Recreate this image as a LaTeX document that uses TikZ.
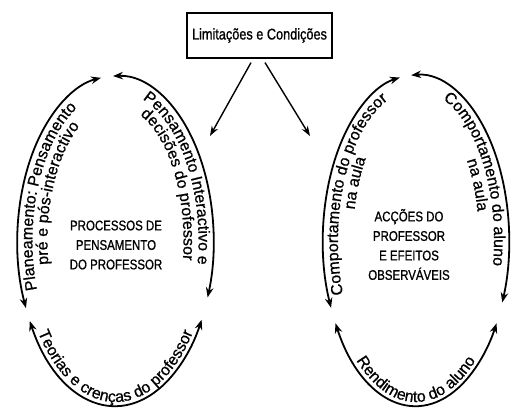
\documentclass[tikz,border=0pt]{standalone}
\usepackage{fontspec}
\setmainfont{Liberation Sans}
\newfontfamily\condfont[FakeStretch=0.82,FakeBold=1]{Liberation Sans}
\newfontfamily\arcfam[FakeBold=0.8]{Liberation Sans}
\usetikzlibrary{arrows.meta,calc,decorations.text}
\newcommand\arcfont{\arcfam\fontsize{16bp}{18bp}\selectfont}
% #1 centre, #2 x radius, #3 y radius, #4 start angle, #5 end angle
\newcommand\ringarc[5]{\draw[cyc] ($(#1)+(#4:#2 and #3)$) arc[start angle=#4,end angle=#5,x radius=#2,y radius=#3];}
% #6 alignment, #7 text
\newcommand\ringtext[7]{\path[decorate,decoration={text along path,text align=#6,text={|\arcfont|#7}}] ($(#1)+(#4:#2 and #3)$) arc[start angle=#4,end angle=#5,x radius=#2,y radius=#3];}
\begin{document}
\begin{tikzpicture}[x=1bp,y=1bp,line width=1.8bp,
  cyc/.style={{Stealth[length=10bp,width=7.5bp]}-{Stealth[length=10bp,width=7.5bp]}},
  feed/.style={-{Stealth[length=10bp,width=7bp]},line width=1.4bp},
  limbox/.style={draw,line width=1.2bp,minimum width=145bp,minimum height=45bp,inner sep=0pt,
    font={\condfont\fontsize{15.5bp}{18bp}\selectfont}},
  title/.style={align=center,inner sep=0pt,font={\condfont\fontsize{14bp}{19.5bp}\selectfont}}]
\useasboundingbox (0,0) rectangle (512,408);
\coordinate (L) at (115.5,167);
\coordinate (R) at (416,167.5);

% box and feed arrows
\node[limbox] (lim) at (259.5,372.5) {Limitações e Condições};
\coordinate (p1) at (210,272);
\coordinate (p2) at (310,272);
\draw[feed] ([xshift=-8.5bp,yshift=-4bp]lim.south) -- (p1);
\draw[feed] ([xshift=5.5bp,yshift=-4bp]lim.south) -- (p2);

% left cycle
\ringarc{L}{98}{165}{204}{98.5}
\ringarc{L}{98}{165}{91.5}{-20}
\ringarc{L}{98}{165}{209}{331.5}
\ringtext{L}{83}{150}{199}{60}{left}{Planeamento: Pensamento}
\ringtext{L}{68}{135}{190}{60}{left}{pré e pós-interactivo}
\ringtext{L}{83}{150}{71}{-80}{left}{Pensamento Interactivo e}
\ringtext{L}{68}{135}{69}{-80}{left}{decisões do professor}
\ringtext{L}{94}{161}{200}{340}{center}{Teorias e crenças do professor}
\node[title] (lt) at (116,163) {PROCESSOS DE\\PENSAMENTO\\DO PROFESSOR};

% right cycle
\ringarc{R}{93}{165.5}{204}{100}
\ringarc{R}{93}{165.5}{93}{-22}
\ringarc{R}{93}{165.5}{210}{330}
\ringtext{R}{78}{150.5}{201}{60}{left}{Comportamento do professor}
\ringtext{R}{63}{135.5}{190}{110}{center}{na aula}
\ringtext{R}{78}{150.5}{70}{-80}{left}{Comportamento do aluno}
\ringtext{R}{63}{135.5}{69}{-11}{center}{na aula}
\ringtext{R}{89}{161.5}{215}{325}{center}{Rendimento do aluno}
\node[title] (rt) at (409,163.5) {ACÇÕES DO\\PROFESSOR\\E EFEITOS\\OBSERVÁVEIS};
\end{tikzpicture}
\end{document}
